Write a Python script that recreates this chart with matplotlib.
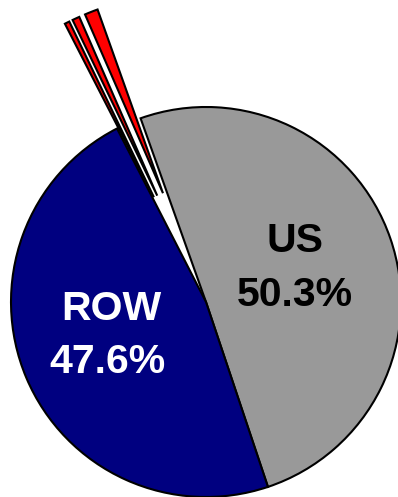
import matplotlib
matplotlib.use("Agg")
import matplotlib.pyplot as plt

# Share of total, clockwise from the US slice
labels = ["US", "ROW", "Other A", "Other B", "Other C"]
shares = [50.3, 47.6, 0.4, 0.6, 1.1]
colors = ["#999999", "#000080", "#FF0000", "#FF0000", "#FF0000"]
explode = [0, 0, 0.6, 0.6, 0.6]

fig = plt.figure(figsize=(3.98, 4.97), dpi=100)
ax = fig.add_axes([0, 0, 1, 1])

ax.pie(shares, colors=colors, explode=explode, startangle=109.6,
       counterclock=False, wedgeprops=dict(edgecolor="black", linewidth=1.5))

font = dict(family="Liberation Sans", fontweight="bold", fontsize=29.5,
            ha="center", va="baseline")
ax.text(0.456, 0.256, "US", color="black", **font)
ax.text(0.454, -0.021, "50.3%", color="black", **font)
ax.text(-0.487, -0.092, "ROW", color="white", **font)
ax.text(-0.505, -0.364, "47.6%", color="white", **font)

ax.set_xlim(-206 / 195, 192 / 195)
ax.set_ylim(-195 / 195, 302 / 195)
ax.set_aspect("auto")
ax.axis("off")

fig.savefig("out.png", dpi=100)
